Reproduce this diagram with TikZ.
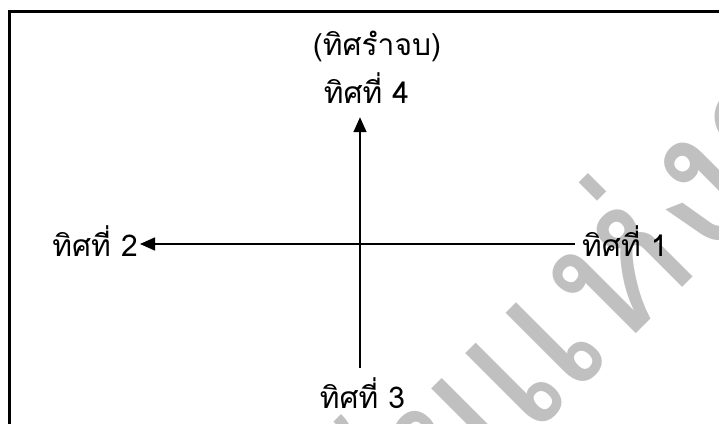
\documentclass[tikz,border=0pt]{standalone}
\usepackage{fontspec}
\newfontfamily\thaifont[Script=Thai]{Loma}
\usetikzlibrary{arrows.meta}
\definecolor{wmgray}{RGB}{192,192,192}
\begin{document}
\begin{tikzpicture}[x=1pt,y=-1pt,
  lbl/.style={font=\thaifont\fontsize{30}{35}\selectfont, inner sep=0pt, text height=20pt, text depth=6pt},
  axisline/.style={line width=1.6pt, black},
  tipped/.style={-{Triangle[length=15pt,width=13pt]}},
  frameline/.style={line width=2.5pt, black},
  wm/.style={font=\thaifont\fontsize{190}{190}\selectfont, text=wmgray, rotate=45, inner sep=0pt}]
\useasboundingbox (0,0) rectangle (719,423);
\begin{scope}
  \clip (0,0) rectangle (719,423);
  \node[wm, anchor=base west] (wmb) at (528,442) {แห่งชาติ};
  \node[wm, anchor=base east] (wma) at (528,442) {วิจัย};
  \draw[frameline] (9.5,450) -- (9.5,11.5) -- (740,11.5);
\end{scope}
\coordinate (o) at (360,244);
\node[lbl, anchor=base] (top) at (377,55) {(ทิศรำจบ)};
\node[lbl, anchor=base] (t4) at (366.5,103) {ทิศที่ 4};
\node[lbl, anchor=base] (t3) at (362.5,408) {ทิศที่ 3};
\node[lbl, anchor=base east] (t2) at (138,256) {ทิศที่ 2};
\node[lbl, anchor=base west] (t1) at (582,256) {ทิศที่ 1};
\draw[axisline, tipped, shorten <=7pt, shorten >=2pt] (o -| t1.west) -- (o -| t2.east);
\draw[axisline, tipped, shorten <=20pt, shorten >=8pt] (t3.north -| o) -- (t4.south -| o);
\end{tikzpicture}
\end{document}
